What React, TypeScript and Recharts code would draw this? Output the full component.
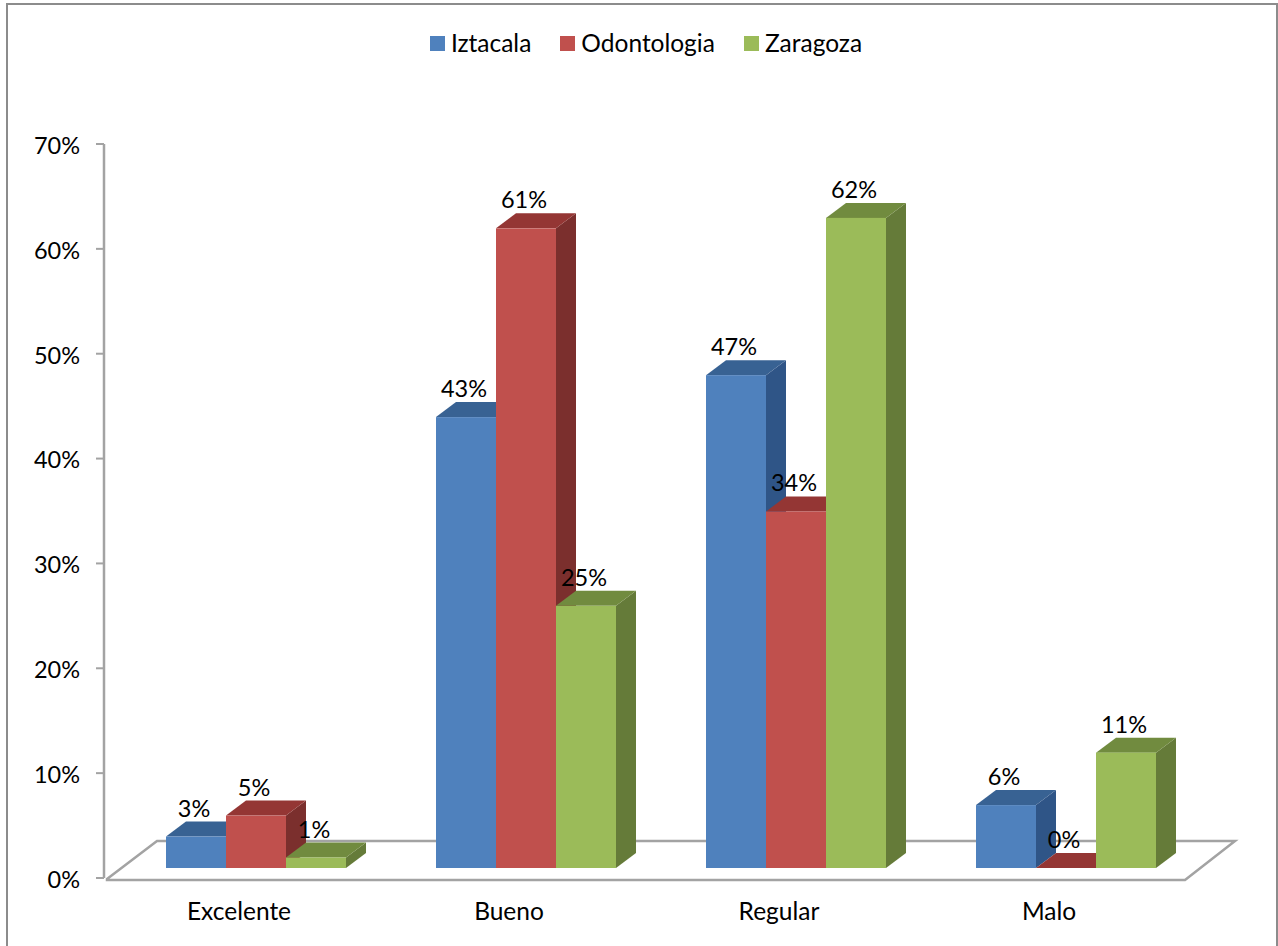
import React from 'react';
import { BarChart, Bar, XAxis, YAxis, Legend, LabelList, usePlotArea } from 'recharts';

const categories = ['Excelente', 'Bueno', 'Regular', 'Malo'];
const iztacala = [3, 43, 47, 6];
const odontologia = [5, 61, 34, 0];
const zaragoza = [1, 25, 62, 11];
const yTicks = [0, 10, 20, 30, 40, 50, 60, 70];

const data = categories.map((name, i) => ({
  name,
  iztacala: iztacala[i],
  odontologia: odontologia[i],
  zaragoza: zaragoza[i],
}));

const FONT = 'Lato, sans-serif';
const WORD_SIZE = 24.5;
const NUMBER_SIZE = 23.5;
const AXIS_GREY = '#a3a3a3';

// bars stand back from the axis plane, on the raised floor
const SHIFT_X = 17;
const SHIFT_Y = -10;
const DEPTH_X = 20;
const DEPTH_Y = 15;

const seriesList = [
  { key: 'iztacala', name: 'Iztacala', front: '#4f81bd', top: '#386293', side: '#2f5587' },
  { key: 'odontologia', name: 'Odontologia', front: '#c0504d', top: '#943634', side: '#7b2f2d' },
  { key: 'zaragoza', name: 'Zaragoza', front: '#9bbb59', top: '#718b3f', side: '#657b39' },
];

function make3dBar(front: string, top: string, side: string) {
  return function Bar3d(props: any) {
    const x = props.x + SHIFT_X;
    const y = props.y + SHIFT_Y;
    const w = props.width;
    const h = props.height;
    return (
      <g>
        <polygon
          points={`${x + w},${y} ${x + w + DEPTH_X},${y - DEPTH_Y} ${x + w + DEPTH_X},${y + h - DEPTH_Y} ${x + w},${y + h}`}
          fill={side}
        />
        <polygon
          points={`${x},${y} ${x + DEPTH_X},${y - DEPTH_Y} ${x + w + DEPTH_X},${y - DEPTH_Y} ${x + w},${y}`}
          fill={top}
        />
        <rect x={x} y={y} width={w} height={h} fill={front} />
      </g>
    );
  };
}

function ValueLabel(props: any) {
  const { x, y, width, value } = props;
  return (
    <text
      x={x + SHIFT_X + width / 2 - 2}
      y={y + SHIFT_Y - 20}
      textAnchor="middle"
      fontFamily={FONT}
      fontSize={NUMBER_SIZE}
      fill="#000"
    >
      {value}%
    </text>
  );
}

// grey floor outline under the bars
function Floor() {
  const plot = usePlotArea();
  if (!plot) return null;
  const left = plot.x;
  const right = plot.x + plot.width;
  const bottom = plot.y + plot.height;
  return (
    <polygon
      points={`${left + 3},${bottom + 1} ${left + 53},${bottom - 37} ${right + 51},${bottom - 37} ${right + 1},${bottom + 2} ${left + 3},${bottom + 2}`}
      fill="#fff"
      stroke={AXIS_GREY}
      strokeWidth={2.5}
    />
  );
}

function LegendRow() {
  return (
    <div
      style={{
        display: 'flex',
        justifyContent: 'center',
        gap: 29,
        fontFamily: FONT,
        fontSize: WORD_SIZE,
        color: '#000',
        lineHeight: '30px',
      }}
    >
      {seriesList.map((s) => (
        <div key={s.key} style={{ display: 'flex', alignItems: 'center', gap: 6 }}>
          <span style={{ width: 15, height: 15, background: s.front, display: 'inline-block' }} />
          <span>{s.name}</span>
        </div>
      ))}
    </div>
  );
}

export default function App() {
  return (
    <div style={{ position: 'absolute', left: 0, top: 0, width: 1278, height: 946, overflow: 'hidden', background: '#fff' }}>
      <div
        style={{
          position: 'absolute',
          left: 6,
          top: 3,
          width: 1268,
          height: 960,
          borderLeft: '2px solid #8c8c8c',
          borderTop: '2px solid #8c8c8c',
          borderRight: '2px solid #8c8c8c',
        }}
      />
      <BarChart
        width={1278}
        height={946}
        data={data}
        margin={{ top: 114, right: 94, bottom: 0, left: 0 }}
        barSize={60}
        barGap={0}
        barCategoryGap={0}
        style={{ position: 'absolute', left: 0, top: 0 }}
      >
        <Floor />
        <XAxis
          dataKey="name"
          axisLine={false}
          tickLine={false}
          tickSize={0}
          tickMargin={25}
          height={68}
          interval={0}
          tick={{ fill: '#000', fontFamily: FONT, fontSize: WORD_SIZE }}
        />
        <YAxis
          width={104}
          domain={[0, 70]}
          ticks={yTicks}
          tickFormatter={(v: number) => `${v}%`}
          axisLine={{ stroke: AXIS_GREY, strokeWidth: 2.5 }}
          tickLine={{ stroke: AXIS_GREY, strokeWidth: 2 }}
          tickSize={8}
          tickMargin={16}
          tick={{ fill: '#000', fontFamily: FONT, fontSize: NUMBER_SIZE, dy: 1.5 }}
        />
        <Legend verticalAlign="top" wrapperStyle={{ top: 28, left: 0, width: 1292 }} content={() => <LegendRow />} />
        {seriesList.map((s) => (
          <Bar
            key={s.key}
            dataKey={s.key}
            name={s.name}
            fill={s.front}
            isAnimationActive={false}
            shape={make3dBar(s.front, s.top, s.side)}
          >
            <LabelList dataKey={s.key} content={ValueLabel} />
          </Bar>
        ))}
      </BarChart>
    </div>
  );
}
